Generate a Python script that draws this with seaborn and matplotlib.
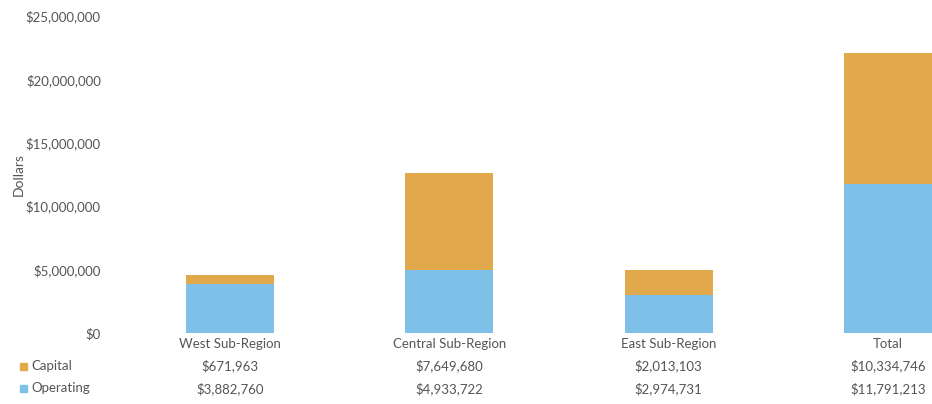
import matplotlib
matplotlib.use("Agg")
import matplotlib.pyplot as plt
import matplotlib.transforms as mtransforms
import pandas as pd
import seaborn as sns
from matplotlib.ticker import FuncFormatter

regions = ["West Sub-Region", "Central Sub-Region", "East Sub-Region", "Total"]
capital = [671963, 7649680, 2013103, 10334746]
operating = [3882760, 4933722, 2974731, 11791213]
series_names = ["Capital", "Operating"]

CAPITAL_COLOR = "#E2A84C"
OPERATING_COLOR = "#7EC0E7"
TEXT_COLOR = "#555555"

sns.set_theme(style="white")
plt.rcParams["font.family"] = ["Lato", "DejaVu Sans"]

df = pd.DataFrame({"region": regions, "capital": capital, "operating": operating})
df["stacked"] = df["capital"] + df["operating"]

fig = plt.figure(figsize=(9.32, 4.04), dpi=100)
ax = fig.add_axes([0.129, 0.176, 0.871, 0.784])

# stacked bars: full height in capital colour, operating drawn on top of it
sns.barplot(data=df, x="region", y="stacked", color=CAPITAL_COLOR, width=0.4,
            saturation=1, linewidth=0, ax=ax)
sns.barplot(data=df, x="region", y="operating", color=OPERATING_COLOR, width=0.4,
            saturation=1, linewidth=0, ax=ax)

ax.set_ylim(0, 25_000_000)
ax.set_xlim(-0.5, 3.2)
ax.yaxis.set_major_formatter(FuncFormatter(lambda v, _: f"${v:,.0f}"))
ax.set_yticks(range(0, 25_000_001, 5_000_000))
ax.tick_params(axis="y", labelsize=9.5, labelcolor=TEXT_COLOR, length=0, pad=14)
ax.set_xticks([])
ax.set_xlabel("")
ax.set_ylabel("Dollars", fontsize=10, color=TEXT_COLOR, labelpad=4)
ax.yaxis.set_label_coords(-0.118, 0.5)
sns.despine(ax=ax, left=True, bottom=True)

# data table under the bars
trans = mtransforms.blended_transform_factory(ax.transData, ax.transAxes)
row_y = [-0.035, -0.105, -0.175]
for i, name in enumerate(regions):
    ax.text(i, row_y[0], name, transform=trans, ha="center", va="center",
            fontsize=9.5, color=TEXT_COLOR)
    ax.text(i, row_y[1], f"${capital[i]:,}", transform=trans, ha="center",
            va="center", fontsize=9.5, color=TEXT_COLOR)
    ax.text(i, row_y[2], f"${operating[i]:,}", transform=trans, ha="center",
            va="center", fontsize=9.5, color=TEXT_COLOR)

# legend keys in the table's left column
for name, colour, y in zip(series_names, [CAPITAL_COLOR, OPERATING_COLOR], row_y[1:]):
    ypix = fig.transFigure.inverted().transform(ax.transAxes.transform((0, y)))[1]
    fig.patches.append(plt.Rectangle((0.021, ypix - 0.009), 0.0075, 0.017,
                                     transform=fig.transFigure, color=colour))
    fig.text(0.034, ypix, name, ha="left", va="center", fontsize=9.5, color=TEXT_COLOR)

fig.savefig("out.png", dpi=100)
